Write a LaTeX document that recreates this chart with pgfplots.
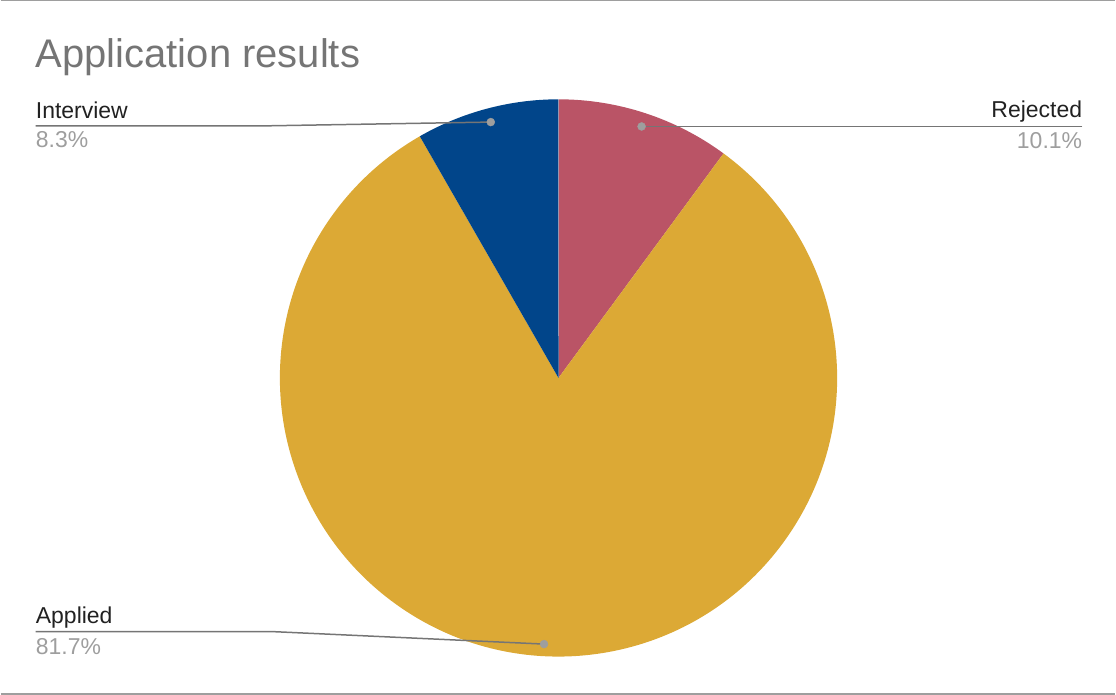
\documentclass[border=0pt]{standalone}
\usepackage{pgfplots}
\pgfplotsset{compat=1.18}
\usepackage{pgfplotstable}
\usepackage{fontspec}
\setmainfont{Liberation Sans}
\definecolor{cR}{HTML}{BA5466}
\definecolor{cA}{HTML}{DCA935}
\definecolor{cI}{HTML}{01458A}
\definecolor{titlegray}{HTML}{757575}
\definecolor{pctgray}{HTML}{9E9E9E}
\definecolor{linegray}{HTML}{757575}
\definecolor{framegray}{HTML}{9E9E9E}
\pgfplotstableread{
label value
Rejected 10.1
Applied 81.7
Interview 8.3
}\piedata
\begin{document}
\begin{tikzpicture}
\pgfplotstablegetelem{0}{value}\of\piedata \let\vR\pgfplotsretval
\pgfplotstablegetelem{1}{value}\of\piedata \let\vA\pgfplotsretval
\pgfplotstablegetelem{2}{value}\of\piedata \let\vI\pgfplotsretval
\pgfmathsetmacro\tot{\vR+\vA+\vI}
\pgfmathsetmacro\aR{90-\vR/\tot*360}
\pgfmathsetmacro\aA{\aR-\vA/\tot*360}
\pgfmathsetmacro\aI{\aA-\vI/\tot*360}
\begin{axis}[
  width=1116pt, height=698pt, scale only axis,
  xmin=0, xmax=1116, ymin=0, ymax=698,
  hide axis, clip=false,
]
% frame lines
\addplot[framegray, line width=1.5pt] coordinates {(0,697.2) (1116,697.2)};
\addplot[framegray, line width=1.5pt] coordinates {(0,3) (1116,3)};
% pie slices
\fill[cR] (axis cs:558.5,319.5) -- ++(90:279pt) arc[start angle=90, end angle=\aR, radius=279pt] -- cycle;
\fill[cA] (axis cs:558.5,319.5) -- ++(\aR:279pt) arc[start angle=\aR, end angle=\aA, radius=279pt] -- cycle;
\fill[cI] (axis cs:558.5,319.5) -- ++(\aA:279pt) arc[start angle=\aA, end angle=\aI, radius=279pt] -- cycle;
% leader lines
\addplot[linegray, line width=1.5pt] coordinates {(35,572) (270,572) (490.7,575.7)};
\addplot[linegray, line width=1.5pt] coordinates {(1083,571.3) (641.7,571.3)};
\addplot[linegray, line width=1.5pt] coordinates {(35,65.5) (272,65.5) (544,53)};
\addplot[only marks, mark=*, mark size=4pt, mark options={fill=pctgray, draw=pctgray}] coordinates {(490.7,575.7) (641.7,571.3) (544,53)};
% title
\node[anchor=base west, inner sep=0pt, text=titlegray, font=\fontsize{40}{46}\selectfont] at (axis cs:35,630) {Application results};
% labels
\node[anchor=base west, inner sep=0pt, text=black!87, font=\fontsize{23}{27}\selectfont] at (axis cs:35,579) {Interview};
\node[anchor=base west, inner sep=0pt, text=pctgray, font=\fontsize{23}{27}\selectfont] at (axis cs:35,550) {8.3\%};
\node[anchor=base east, inner sep=0pt, text=black!87, font=\fontsize{23}{27}\selectfont] at (axis cs:1083,580) {Rejected};
\node[anchor=base east, inner sep=0pt, text=pctgray, font=\fontsize{23}{27}\selectfont] at (axis cs:1083,549) {10.1\%};
\node[anchor=base west, inner sep=0pt, text=black!87, font=\fontsize{23}{27}\selectfont] at (axis cs:35,74) {Applied};
\node[anchor=base west, inner sep=0pt, text=pctgray, font=\fontsize{23}{27}\selectfont] at (axis cs:35,43) {81.7\%};
\end{axis}
\end{tikzpicture}
\end{document}
